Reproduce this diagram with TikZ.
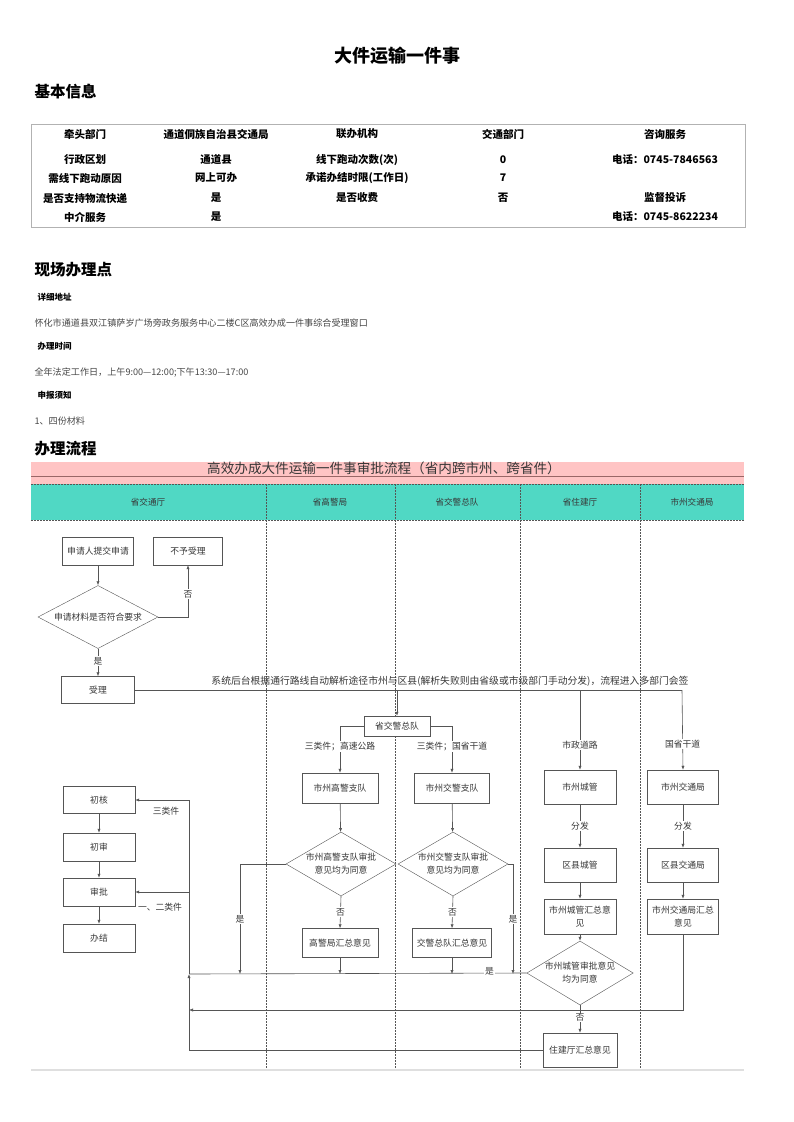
\documentclass[tikz,border=0pt]{standalone}
\usepackage{fontspec}
\setmainfont{Noto Sans CJK SC}
\usetikzlibrary{shapes.geometric,arrows.meta}
\definecolor{pinkband}{RGB}{255,196,196}
\definecolor{tealband}{RGB}{80,216,196}
\definecolor{ln}{RGB}{85,85,85}
\definecolor{tx}{RGB}{55,55,55}
\definecolor{bodytx}{RGB}{70,70,70}
\begin{document}
\begin{tikzpicture}[x=1pt,y=-1pt,
  ttl/.style={font=\fontsize{18}{20}\selectfont\bfseries},
  sect/.style={anchor=west,font=\fontsize{15.5}{17}\selectfont\bfseries},
  cell/.style={font=\fontsize{10.5}{12}\selectfont\bfseries},
  sub/.style={anchor=west,font=\fontsize{8.5}{10}\selectfont\bfseries},
  body/.style={anchor=west,text=bodytx,font=\fontsize{9.1}{10}\selectfont},
  lane/.style={text=tx,font=\fontsize{8.6}{9}\selectfont},
  fbox/.style={draw=ln,fill=white,text=tx,align=center,inner sep=1pt,font=\fontsize{8.8}{13}\selectfont},
  fdec/.style={diamond,draw=ln,fill=white,text=tx,align=center,inner sep=0pt,font=\fontsize{8.8}{13}\selectfont},
  lbl/.style={fill=white,text=tx,inner sep=1pt,font=\fontsize{8.8}{10}\selectfont},
  plainlbl/.style={text=tx,inner sep=1pt,font=\fontsize{8.8}{10}\selectfont},
  arr/.style={draw=ln,line width=0.6pt,-{Latex[length=4pt,width=3.2pt]}},
  con/.style={draw=ln,line width=0.6pt},
  divider/.style={draw=ln,line width=0.4pt,dash pattern=on 1.6pt off 1.4pt}
]
\useasboundingbox (0,0) rectangle (793,1122);
\fill[white] (0,0) rectangle (793,1122);

% ---------- title ----------
\node[ttl] (title) at (397,56) {大件运输一件事};
\node[sect] (jbxx) at (31,92) {基本信息};

% ---------- table ----------
\draw[draw=gray!60,line width=0.8pt] (31,124) rectangle (745,227);
\node[cell] (t11) at (85,134) {牵头部门};
\node[cell] (t12) at (216,134) {通道侗族自治县交通局};
\node[cell] (t13) at (357,134) {联办机构};
\node[cell] (t14) at (503,134) {交通部门};
\node[cell] (t15) at (665,134) {咨询服务};
\node[cell] (t21) at (85,160) {行政区划};
\node[cell] (t22) at (216,160) {通道县};
\node[cell] (t23) at (357,160) {线下跑动次数(次)};
\node[cell] (t24) at (503,160) {0};
\node[cell] (t25) at (665,160) {电话：0745-7846563};
\node[cell] (t31) at (85,178) {需线下跑动原因};
\node[cell] (t32) at (216,178) {网上可办};
\node[cell] (t33) at (357,178) {承诺办结时限(工作日)};
\node[cell] (t34) at (503,178) {7};
\node[cell] (t41) at (85,198) {是否支持物流快递};
\node[cell] (t42) at (216,198) {是};
\node[cell] (t43) at (357,198) {是否收费};
\node[cell] (t44) at (503,198) {否};
\node[cell] (t45) at (665,198) {监督投诉};
\node[cell] (t51) at (85,217) {中介服务};
\node[cell] (t52) at (216,217) {是};
\node[cell] (t55) at (665,217) {电话：0745-8622234};

% ---------- site ----------
\node[sect] (xcbld) at (31,270) {现场办理点};
\node[sub] (xxdz) at (34,297) {详细地址};
\node[body] (addr) at (31,323) {怀化市通道县双江镇萨岁广场旁政务服务中心二楼C区高效办成一件事综合受理窗口};
\node[sub] (blsj) at (34,346) {办理时间};
\node[body] (time) at (31,372) {全年法定工作日，上午9:00—12:00;下午13:30—17:00};
\node[sub] (sbxz) at (34,395) {申报须知};
\node[body] (mat) at (31,421) {1、四份材料};
\node[sect] (bllc) at (31,449) {办理流程};

% ---------- bands ----------
\fill[pinkband] (31,462) rectangle (744,484);
\draw[draw=gray!80!red,line width=0.6pt] (31,476) -- (744,476);
\node[text=tx,font=\fontsize{13.6}{14}\selectfont] (ftitle) at (384,468.5) {高效办成大件运输一件事审批流程（省内跨市州、跨省件）};
\fill[tealband] (31,484) rectangle (744,520);
\draw[divider] (31,484) -- (744,484);
\draw[divider] (31,520) -- (744,520);
\foreach \xx in {266,395,520,640} \draw[divider] (\xx,484) -- (\xx,1070);
\node[lane] (l1) at (148,502) {省交通厅};
\node[lane] (l2) at (330,502) {省高警局};
\node[lane] (l3) at (457,502) {省交警总队};
\node[lane] (l4) at (580,502) {省住建厅};
\node[lane] (l5) at (692,502) {市州交通局};
\draw[draw=gray!25,line width=1.2pt] (31,1070) -- (744,1070);

% ---------- left column ----------
\node[fbox,minimum width=71pt,minimum height=28pt] (sq) at (98,551) {申请人提交申请};
\node[fbox,minimum width=69pt,minimum height=28pt] (bys) at (188,551) {不予受理};
\node[fdec,minimum width=120pt,minimum height=63pt,aspect=1.9] (dec1) at (98,617) {申请材料是否符合要求};
\node[fbox,minimum width=73pt,minimum height=27pt] (sl) at (98,690) {受理};
\draw[arr] (sq) -- (dec1);
\draw[arr] (dec1.east) -| node[lbl,pos=0.72] {否} (bys.south);
\draw[arr] (dec1.south) -- node[lbl,pos=0.45] {是} (sl.north);

\node[fbox,minimum width=72pt,minimum height=27pt] (chuhe) at (99,800) {初核};
\node[fbox,minimum width=72pt,minimum height=28pt] (chushen) at (99,847) {初审};
\node[fbox,minimum width=72pt,minimum height=28pt] (shenpi) at (99,892) {审批};
\node[fbox,minimum width=72pt,minimum height=28pt] (banjie) at (99,938) {办结};
\draw[arr] (chuhe) -- (chushen);
\draw[arr] (chushen) -- (shenpi);
\draw[arr] (shenpi) -- (banjie);

% ---------- distribution line ----------
\coordinate (cR) at (682,690);
\coordinate (cJ) at (397,690);
\coordinate (cC) at (580,690);
\node[plainlbl,font=\fontsize{9.8}{10}\selectfont] (systxt) at (450,681) {系统后台根据通行路线自动解析途径市州与区县(解析失败则由省级或市级部门手动分发)，流程进入多部门会签};

\node[fbox,minimum width=66pt,minimum height=20pt] (jzd) at (397,726) {省交警总队};
\node[fbox,minimum width=76pt,minimum height=30pt] (gjzd) at (340,788) {市州高警支队};
\node[fbox,minimum width=75pt,minimum height=30pt] (jjzd) at (452,788) {市州交警支队};
\node[fdec,minimum width=110pt,minimum height=64pt,aspect=1.7] (gjdec) at (341,864) {市州高警支队审批\\意见均为同意};
\node[fdec,minimum width=110pt,minimum height=64pt,aspect=1.7] (jjdec) at (453,864) {市州交警支队审批\\意见均为同意};
\node[fbox,minimum width=76pt,minimum height=29pt] (gjhz) at (340,943) {高警局汇总意见};
\node[fbox,minimum width=79pt,minimum height=29pt] (jjhz) at (452,943) {交警总队汇总意见};

\node[fbox,minimum width=72pt,minimum height=34pt] (szcg) at (580,787) {市州城管};
\node[fbox,minimum width=72pt,minimum height=34pt] (qxcg) at (580,865) {区县城管};
\node[fbox,minimum width=72pt,minimum height=35pt] (cghz) at (580,916.5) {市州城管汇总意\\见};
\node[fdec,minimum width=106pt,minimum height=64pt,aspect=1.7] (cgdec) at (580,973) {市州城管审批意见\\均为同意};
\node[fbox,minimum width=74pt,minimum height=34pt] (zjhz) at (580,1050) {住建厅汇总意见};

\node[fbox,minimum width=71pt,minimum height=34pt] (sjt) at (683,787) {市州交通局};
\node[fbox,minimum width=71pt,minimum height=34pt] (qxjt) at (683,865) {区县交通局};
\node[fbox,minimum width=71pt,minimum height=35pt] (jthz) at (683,916.5) {市州交通局汇总\\意见};

\draw[con] (sl.east) -- (cR);
\draw[arr] (cR) -- node[lbl,pos=0.68] {国省干道} (sjt.north);
\draw[arr] (cJ) -- (jzd.north);
\draw[arr] (cC) -- node[lbl,pos=0.69] {市政道路} (szcg.north);

\draw[arr] (jzd.west) -| node[lbl,pos=0.72] {三类件；高速公路} (gjzd.north);
\draw[arr] (jzd.east) -| node[lbl,pos=0.72] {三类件；国省干道} (jjzd.north);
\draw[arr] (gjzd) -- (gjdec);
\draw[arr] (jjzd) -- (jjdec);
\draw[arr] (gjdec.south) -- node[lbl,pos=0.5] {否} (gjhz.north);
\draw[arr] (jjdec.south) -- node[lbl,pos=0.5] {否} (jjhz.north);

\draw[arr] (szcg) -- node[lbl] {分发} (qxcg);
\draw[arr] (qxcg) -- (cghz);
\draw[arr] (cghz) -- (cgdec);
\draw[arr] (cgdec.south) -- node[lbl,pos=0.45] {否} (zjhz.north);
\draw[arr] (sjt) -- node[lbl] {分发} (qxjt);
\draw[arr] (qxjt) -- (jthz);

% ---------- return lines ----------
\coordinate (m974) at (189,974);
\coordinate (m892) at (189,892);
\coordinate (g974) at (240,974);
\coordinate (h974) at (340,974);
\coordinate (j974) at (452,974);
\coordinate (k974) at (513,974);
\coordinate (r1010) at (683,1010);
\coordinate (m1010) at (189,1010);

\draw[con] (cgdec.west) -- node[lbl,pos=0.11,yshift=1.5pt] {是} (m974);
\draw[arr] (gjdec.west) -| node[lbl,pos=0.75] {是} (g974);
\draw[arr] (jjdec.east) -| node[lbl,pos=0.75] {是} (k974);
\draw[arr] (gjhz.south) -- (h974);
\draw[arr] (jjhz.south) -- (j974);
\draw[arr] (jthz.south) -- (r1010) -- (m1010);
\draw[arr,line width=0.8pt] (zjhz.west) -| (m974);
\draw[arr] (m974) |- (chuhe.east);
\draw[arr] (m892) -- (shenpi.east);
\node[plainlbl] (l3lei) at (166,811) {三类件};
\node[plainlbl] (l12lei) at (160,907) {一、二类件};
\end{tikzpicture}
\end{document}
